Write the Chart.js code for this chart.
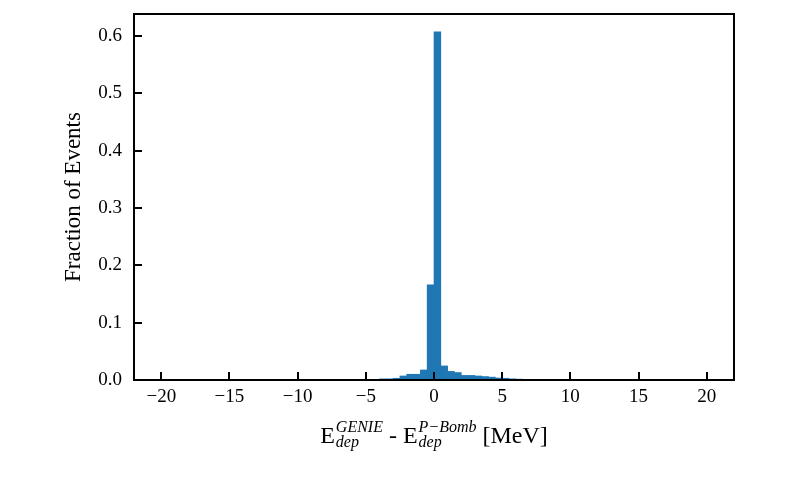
<!DOCTYPE html>
<html>
<head>
<meta charset="utf-8">
<script src="https://cdn.jsdelivr.net/npm/chart.js@4.4.1/dist/chart.umd.min.js"></script>
<style>
    html, body { margin: 0; padding: 0; background: #ffffff; }
    #histChart { display: block; }
</style>
</head>
<body>
<canvas id="histChart" width="789" height="488"></canvas>
<script>
// Histogram bins (0.5 MeV wide), centres in MeV; bins outside this range are empty
const binCenters = [-4.75, -4.25, -3.75, -3.25, -2.75, -2.25, -1.75, -1.25, -0.75, -0.25,
                    0.25, 0.75, 1.25, 1.75, 2.25, 2.75, 3.25, 3.75, 4.25, 4.75,
                    5.25, 5.75, 6.25, 6.75, 7.25];
const fractions = [0.0008, 0.0012, 0.002, 0.002, 0.003, 0.007, 0.010, 0.010, 0.0175, 0.166,
                   0.607, 0.0245, 0.015, 0.013, 0.008, 0.008, 0.007, 0.006, 0.005, 0.0035,
                   0.003, 0.002, 0.0015, 0.001, 0.0005];
const xTicks = [-20, -15, -10, -5, 0, 5, 10, 15, 20];
const yTicks = [0.0, 0.1, 0.2, 0.3, 0.4, 0.5, 0.6];

const serif = "'Liberation Serif', 'DejaVu Serif', serif";

// frame, inward tick marks and axis titles
const framePlugin = {
    id: 'frame',
    afterDraw(chart) {
        const ctx = chart.ctx;
        const area = chart.chartArea;
        const xs = chart.scales.x;
        const ys = chart.scales.y;
        ctx.save();
        ctx.strokeStyle = '#000';
        ctx.lineWidth = 2;
        ctx.beginPath();
        xTicks.forEach(v => {
            const px = Math.round(xs.getPixelForValue(v));
            ctx.moveTo(px, area.bottom);
            ctx.lineTo(px, area.bottom - 8);
        });
        yTicks.forEach(v => {
            const py = Math.round(ys.getPixelForValue(v));
            ctx.moveTo(area.left, py);
            ctx.lineTo(area.left + 8, py);
        });
        ctx.stroke();
        ctx.strokeRect(area.left, area.top, area.right - area.left, area.bottom - area.top);

        // y title
        ctx.fillStyle = '#000';
        ctx.font = '23px ' + serif;
        ctx.textAlign = 'center';
        ctx.textBaseline = 'middle';
        ctx.translate(74, (area.top + area.bottom) / 2);
        ctx.rotate(-Math.PI / 2);
        ctx.fillText('Fraction of Events', 0, 0);
        ctx.restore();

        // x title: E^{GENIE}_{dep} - E^{P-Bomb}_{dep} [MeV]
        ctx.save();
        ctx.fillStyle = '#000';
        ctx.textBaseline = 'alphabetic';
        ctx.textAlign = 'left';
        const main = '24px ' + serif;
        const small = 'italic 16px ' + serif;
        const parts = [
            { t: 'E', f: main },
            { sup: 'GENIE', sub: 'dep' },
            { t: ' - ', f: main },
            { t: 'E', f: main },
            { sup: 'P\u2212Bomb', sub: 'dep' },
            { t: ' [MeV]', f: main }
        ];
        const widthOf = p => {
            if (p.t !== undefined) { ctx.font = p.f; return ctx.measureText(p.t).width; }
            ctx.font = small;
            return Math.max(ctx.measureText(p.sup).width, ctx.measureText(p.sub).width) + 1;
        };
        const total = parts.reduce((s, p) => s + widthOf(p), 0);
        let x = (area.left + area.right) / 2 - total / 2;
        const base = 443;
        parts.forEach(p => {
            const w = widthOf(p);
            if (p.t !== undefined) {
                ctx.font = p.f;
                ctx.fillText(p.t, x, base);
            } else {
                ctx.font = small;
                ctx.fillText(p.sup, x + 1, base - 11);
                ctx.fillText(p.sub, x + 1, base + 4);
            }
            x += w;
        });
        ctx.restore();
    }
};

new Chart(document.getElementById('histChart'), {
    type: 'bar',
    data: {
        datasets: [{
            data: binCenters.map((c, i) => ({ x: c, y: fractions[i] })),
            backgroundColor: '#1f77b4',
            borderWidth: 0,
            barPercentage: 1.0,
            categoryPercentage: 1.0,
            grouped: false
        }]
    },
    options: {
        responsive: false,
        animation: false,
        layout: { padding: { left: 0, top: 14, right: 55, bottom: 0 } },
        plugins: {
            legend: { display: false },
            tooltip: { enabled: false }
        },
        scales: {
            x: {
                type: 'linear',
                offset: false,
                min: -22,
                max: 22,
                grid: { display: false, drawTicks: false, offset: false },
                border: { display: false },
                afterBuildTicks: scale => { scale.ticks = xTicks.map(v => ({ value: v })); },
                afterFit: scale => { scale.height = 108; scale.paddingLeft = 0; scale.paddingRight = 0; },
                ticks: {
                    padding: 6,
                    color: '#000',
                    font: { family: serif, size: 19 },
                    callback: v => String(v).replace('-', '\u2212')
                }
            },
            y: {
                min: 0,
                max: 0.638,
                grid: { display: false, drawTicks: false },
                border: { display: false },
                afterBuildTicks: scale => { scale.ticks = yTicks.map(v => ({ value: v })); },
                afterFit: scale => { scale.width = 134; scale.paddingTop = 0; scale.paddingBottom = 0; },
                ticks: {
                    padding: 12,
                    color: '#000',
                    font: { family: serif, size: 19 },
                    callback: v => v.toFixed(1)
                }
            }
        }
    },
    plugins: [framePlugin]
});
</script>
</body>
</html>
